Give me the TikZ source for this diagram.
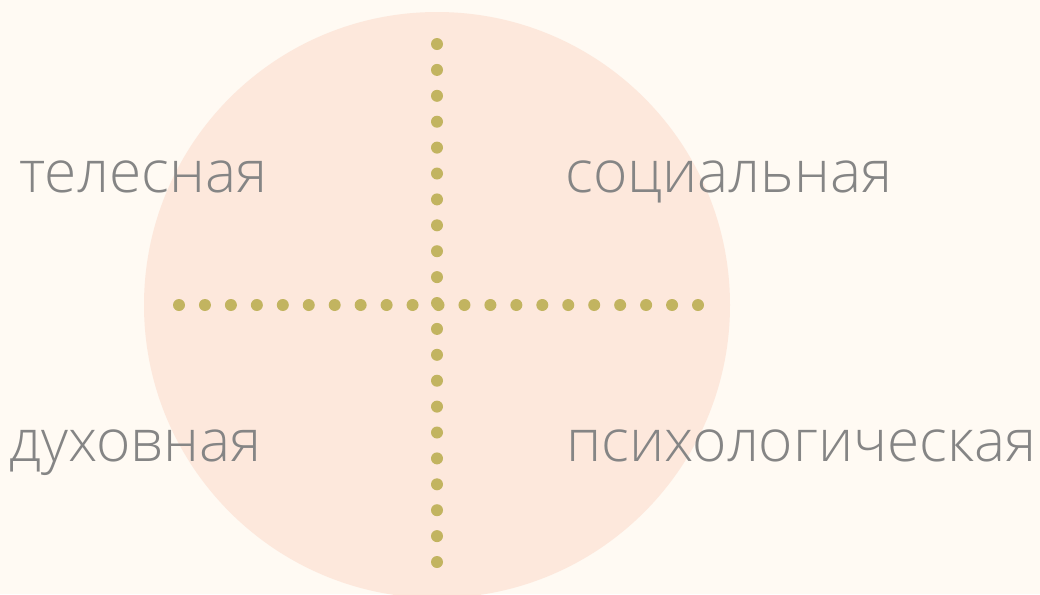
\documentclass[tikz,border=0pt]{standalone}
\usepackage{fontspec}
\setmainfont{Open Sans}[UprightFont={* Light}]
\definecolor{bgc}{HTML}{FFFAF3}
\definecolor{circc}{HTML}{FDE8DC}
\definecolor{dotc}{HTML}{C2B460}
\definecolor{txtc}{HTML}{858585}
\begin{document}
\begin{tikzpicture}[x=0.75pt,y=-0.75pt,
  lbl/.style={anchor=base west,inner sep=0pt,text=txtc,font=\fontsize{44}{52}\selectfont},
  dotmark/.style={fill=dotc,draw=none}]
\fill[bgc] (0,0) rectangle (1040,594);
\useasboundingbox (0,0) rectangle (1040,594);
\begin{scope}
\clip (0,0) rectangle (1040,594);
\fill[circc] (437,305) circle[radius=293];
\end{scope}
\foreach \i in {0,...,20}{
  \fill[dotmark] (437,{44+\i*25.9}) circle[radius=6];
  \fill[dotmark] ({179+\i*25.95},305) circle[radius=6];
}
\node[lbl] (t1) at (19,192) {телесная};
\node[lbl] (t2) at (565,192) {социальная};
\node[lbl] (t3) at (9,461) {духовная};
\node[lbl] (t4) at (566,461) {психологическая};
\end{tikzpicture}
\end{document}
